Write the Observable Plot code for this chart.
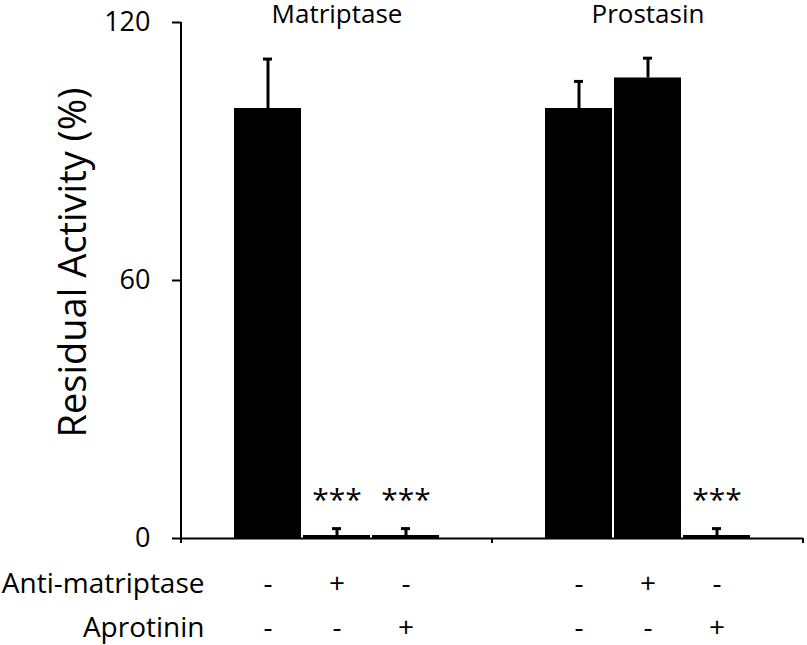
<!DOCTYPE html>
<html>
<head>
<meta charset="utf-8">
<script src="https://cdn.jsdelivr.net/npm/d3@7"></script>
<script src="https://cdn.jsdelivr.net/npm/@observablehq/plot@0.6"></script>
<style>
  html, body { margin: 0; padding: 0; background: #fff; }
</style>
</head>
<body>
<div id="chart"></div>
<script>
// ---- data ----
const groups = ["Matriptase", "Prostasin"];
const conditions = ["control", "antiMatriptase", "aprotinin"];
const matriptaseValues = [100, 0.7, 0.7];
const matriptaseErrors = [11.5, 1.6, 1.6];
const prostasinValues = [100, 107.1, 0.7];
const prostasinErrors = [6.3, 4.6, 1.6];
const antiMatriptaseRow = ["-", "+", "-"];
const aprotininRow = ["-", "-", "+"];
const matriptaseStars = ["", "***", "***"];
const prostasinStars = ["", "", "***"];
const rowLabels = ["Anti-matriptase", "Aprotinin"];
const yTicks = [0, 60, 120];
const yLabel = "Residual Activity (%)";

const groupValues = {Matriptase: matriptaseValues, Prostasin: prostasinValues};
const groupErrors = {Matriptase: matriptaseErrors, Prostasin: prostasinErrors};
const groupStars = {Matriptase: matriptaseStars, Prostasin: prostasinStars};

const rows = [];
for (const g of groups) {
  conditions.forEach((c, i) => {
    rows.push({
      group: g, cond: c,
      value: groupValues[g][i], err: groupErrors[g][i],
      anti: antiMatriptaseRow[i], apro: aprotininRow[i],
      sig: groupStars[g][i]
    });
  });
}

const font = "'Open Sans', Lato, sans-serif";

const plot = Plot.plot({
  width: 807,
  height: 645,
  marginLeft: 181,
  marginRight: 4,
  marginTop: 22,
  marginBottom: 107,
  style: {fontFamily: font, background: "#fff", color: "#000"},
  fx: {domain: groups, padding: 0, axis: null},
  x: {domain: conditions, paddingInner: 0.035, paddingOuter: 0.767, axis: null},
  y: {domain: [0, 120], axis: null},
  marks: [
    Plot.barY(rows, {fx: "group", x: "cond", y: "value", fill: "#000"}),
    Plot.ruleX(rows, {fx: "group", x: "cond", y1: "value", y2: d => d.value + d.err, stroke: "#000", strokeWidth: 3}),
    Plot.tickY(rows, {fx: "group", x: "cond", y: d => d.value + d.err, stroke: "#000", strokeWidth: 3, insetLeft: 29, insetRight: 29}),
    Plot.ruleY([0], {stroke: "#000", strokeWidth: 2}),
    Plot.axisY({ticks: yTicks, tickSize: 9, tickPadding: 22, fontSize: 27, strokeWidth: 2, label: null, tickFormat: d => String(d)}),
    Plot.text(rows, {fx: "group", x: "cond", y: d => d.value + d.err, text: "sig", dy: -28, fontSize: 30, lineAnchor: "middle"}),
    Plot.text(groups, {fx: d => d, text: d => d, frameAnchor: "top", dy: -8, fontSize: 26, lineAnchor: "middle"}),
    Plot.text(rows, {fx: "group", x: "cond", text: "anti", frameAnchor: "bottom", dy: 46, fontSize: 28, lineAnchor: "middle"}),
    Plot.text(rows, {fx: "group", x: "cond", text: "apro", frameAnchor: "bottom", dy: 90, fontSize: 28, lineAnchor: "middle"}),
    Plot.text([rowLabels[0]], {fx: () => groups[0], text: d => d, frameAnchor: "bottom-left", dx: 23, dy: 46, textAnchor: "end", fontSize: 28, lineAnchor: "middle"}),
    Plot.text([rowLabels[1]], {fx: () => groups[0], text: d => d, frameAnchor: "bottom-left", dx: 23, dy: 90, textAnchor: "end", fontSize: 28, lineAnchor: "middle"}),
    Plot.text([yLabel], {fx: () => groups[0], text: d => d, frameAnchor: "left", dx: -108, dy: -18, rotate: -90, textAnchor: "middle", fontSize: 38, lineAnchor: "middle"})
  ]
});

// axis lines and facet-edge ticks, positioned from the plot's own scales
const fx = plot.scale("fx");
const y = plot.scale("y");
const svg = d3.select(plot);
const gAxis = svg.append("g").attr("stroke", "#000").attr("stroke-width", 2);
const y0 = y.apply(0), yTop = y.apply(120);
const left = fx.apply(groups[0]);
gAxis.append("line").attr("x1", left).attr("x2", left).attr("y1", y0).attr("y2", yTop);
const edges = [left, ...groups.map(g => fx.apply(g) + fx.bandwidth)];
for (const e of edges) {
  gAxis.append("line").attr("x1", e).attr("x2", e).attr("y1", y0).attr("y2", y0 + 5);
}

document.getElementById("chart").appendChild(plot);
</script>
</body>
</html>
